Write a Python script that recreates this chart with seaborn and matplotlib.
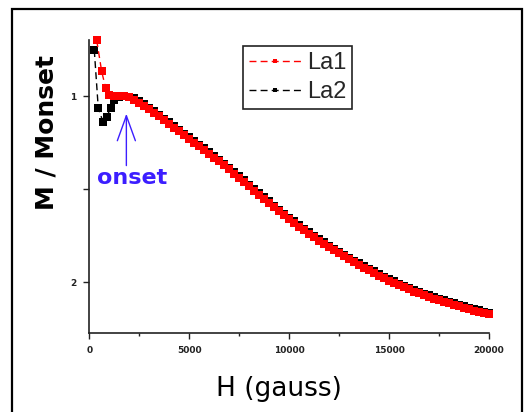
import matplotlib
matplotlib.use("Agg")
import matplotlib.pyplot as plt
import pandas as pd
import seaborn as sns
from matplotlib.lines import Line2D
from matplotlib.patches import Rectangle

# Magnetization normalised to its value at the onset field, two samples
field_la1 = [370, 620, 820, 1000,
             1250, 1500, 1750, 2000, 2250, 2500, 2750, 3000, 3250, 3500,
             3750, 4000, 4250, 4500, 4750, 5000, 5250, 5500, 5750, 6000,
             6250, 6500, 6750, 7000, 7250, 7500, 7750, 8000, 8250, 8500,
             8750, 9000, 9250, 9500, 9750, 10000, 10250, 10500, 10750, 11000,
             11250, 11500, 11750, 12000, 12250, 12500, 12750, 13000, 13250, 13500,
             13750, 14000, 14250, 14500, 14750, 15000, 15250, 15500, 15750, 16000,
             16250, 16500, 16750, 17000, 17250, 17500, 17750, 18000, 18250, 18500,
             18750, 19000, 19250, 19500, 19750, 20000]
mag_la1 = [0.700, 0.868, 0.958, 0.995,
           0.998, 0.999, 1.002, 1.008, 1.020, 1.035, 1.053, 1.072, 1.091, 1.110,
           1.130, 1.150, 1.170, 1.190, 1.210, 1.230, 1.250, 1.270, 1.290, 1.310,
           1.331, 1.352, 1.373, 1.395, 1.417, 1.440, 1.462, 1.485, 1.508, 1.530,
           1.553, 1.575, 1.598, 1.620, 1.641, 1.662, 1.682, 1.702, 1.721, 1.740,
           1.759, 1.777, 1.795, 1.812, 1.829, 1.845, 1.861, 1.877, 1.893, 1.908,
           1.923, 1.937, 1.951, 1.965, 1.979, 1.992, 2.005, 2.017, 2.029, 2.040,
           2.051, 2.061, 2.071, 2.080, 2.089, 2.098, 2.107, 2.115, 2.123, 2.131,
           2.139, 2.146, 2.153, 2.160, 2.167, 2.173]

field_la2 = [250, 450, 685, 870, 1070,
             1250, 1500, 1750, 2000, 2250, 2500, 2750, 3000, 3250, 3500,
             3750, 4000, 4250, 4500, 4750, 5000, 5250, 5500, 5750, 6000,
             6250, 6500, 6750, 7000, 7250, 7500, 7750, 8000, 8250, 8500,
             8750, 9000, 9250, 9500, 9750, 10000, 10250, 10500, 10750, 11000,
             11250, 11500, 11750, 12000, 12250, 12500, 12750, 13000, 13250, 13500,
             13750, 14000, 14250, 14500, 14750, 15000, 15250, 15500, 15750, 16000,
             16250, 16500, 16750, 17000, 17250, 17500, 17750, 18000, 18250, 18500,
             18750, 19000, 19250, 19500, 19750, 20000]
mag_la2 = [0.753, 1.066, 1.138, 1.111, 1.066,
           1.022, 1.004, 1.000, 1.003, 1.013, 1.027, 1.045, 1.064, 1.083, 1.102,
           1.122, 1.142, 1.162, 1.182, 1.202, 1.222, 1.242, 1.262, 1.282, 1.302,
           1.323, 1.344, 1.365, 1.387, 1.409, 1.432, 1.454, 1.477, 1.500, 1.522,
           1.545, 1.567, 1.590, 1.612, 1.633, 1.654, 1.674, 1.694, 1.713, 1.732,
           1.751, 1.769, 1.787, 1.804, 1.821, 1.837, 1.853, 1.869, 1.885, 1.900,
           1.915, 1.929, 1.943, 1.957, 1.971, 1.984, 1.997, 2.009, 2.021, 2.032,
           2.043, 2.053, 2.063, 2.072, 2.081, 2.090, 2.099, 2.107, 2.115, 2.123,
           2.131, 2.138, 2.145, 2.152, 2.159, 2.165]

series_names = ["La1", "La2"]
series_colors = ["#ff0000", "#000000"]

x_ticks = [0, 5000, 10000, 15000, 20000]
x_tick_labels = ["0", "5000", "10000", "15000", "20000"]
y_ticks = [1.0, 1.5, 2.0]
y_tick_labels = ["1", "", "2"]

onset_field = 1855
onset_label = "onset"

df_la1 = pd.DataFrame({"H": field_la1, "M": mag_la1})
df_la2 = pd.DataFrame({"H": field_la2, "M": mag_la2})

sns.set_style("ticks")
plt.rcParams["font.family"] = ["DejaVu Sans"]

fig = plt.figure(figsize=(5.24, 4.12), dpi=100)
ax = fig.add_axes([0.1704, 0.1917, 0.7628, 0.7112])

line_kw = dict(marker="s", markersize=5.2, markeredgewidth=0,
               linestyle=(0, (5, 3)), linewidth=1.0,
               sort=False, estimator=None, clip_on=False)

# La2 first so the La1 band sits on top
sns.lineplot(data=df_la2, x="H", y="M", ax=ax, color=series_colors[1], **line_kw)
sns.lineplot(data=df_la1, x="H", y="M", ax=ax, color=series_colors[0], **line_kw)

ax.set_xlim(0, 20000)
ax.set_ylim(2.274, 0.699)

ax.set_xticks(x_ticks)
ax.set_xticklabels(x_tick_labels)
ax.set_xticks([2500, 7500, 12500, 17500], minor=True)
ax.set_yticks(y_ticks)
ax.set_yticklabels(y_tick_labels)

ax.tick_params(axis="both", which="major", direction="out", length=4.5,
               width=1.0, labelsize=6.5, pad=5, colors="#222222")
ax.tick_params(axis="x", which="minor", direction="out", length=2.5, width=1.0,
               colors="#222222")
for lab in ax.get_xticklabels() + ax.get_yticklabels():
    lab.set_fontweight("bold")

sns.despine(ax=ax)
for side in ("left", "bottom"):
    ax.spines[side].set_linewidth(1.2)
    ax.spines[side].set_color("#222222")

ax.set_xlabel("")
ax.set_ylabel("")
fig.text(278.5 / 524, 1 - 389 / 412, "H (gauss)", ha="center", va="center",
         fontsize=19, color="black")
fig.text(47 / 524, 1 - 132 / 412, "M / Monset", ha="center", va="center",
         rotation=90, fontsize=18, fontweight="bold", color="black")

# Onset marker: arrow pointing up at the onset field, label just below it
onset_color = "#3c1eff"
ax.annotate("", xy=(onset_field, 1.095), xytext=(onset_field, 1.374),
            arrowprops=dict(arrowstyle="->,head_length=1.8,head_width=0.65",
                            color=onset_color, lw=1.0, mutation_scale=10,
                            shrinkA=0, shrinkB=0))
ax.text(2140, 1.385, onset_label, ha="center", va="top", color=onset_color,
        fontsize=16, fontweight="bold")

handles = [Line2D([], [], color=c, marker="s", markersize=3.5,
                  markeredgewidth=0, linestyle=(0, (5, 3)), linewidth=1.0)
           for c in series_colors]
leg = ax.legend(handles, series_names, loc="upper left",
                bbox_to_anchor=(243 / 524, 1 - 46 / 412),
                bbox_transform=fig.transFigure, frameon=True, fancybox=False,
                framealpha=1, edgecolor="#222222",
                handlelength=2.2, handletextpad=0.25, labelspacing=0.3,
                borderpad=0.25, borderaxespad=0,
                prop={"family": "Liberation Sans", "size": 17})
leg.get_frame().set_linewidth(1.2)

# Outer frame around the figure
fig.add_artist(Rectangle((12 / 524, -0.05), (522 - 12) / 524, 1.05 - 9 / 412,
                         transform=fig.transFigure, fill=False,
                         edgecolor="black", linewidth=1.6))

fig.savefig("out.png", dpi=100)
